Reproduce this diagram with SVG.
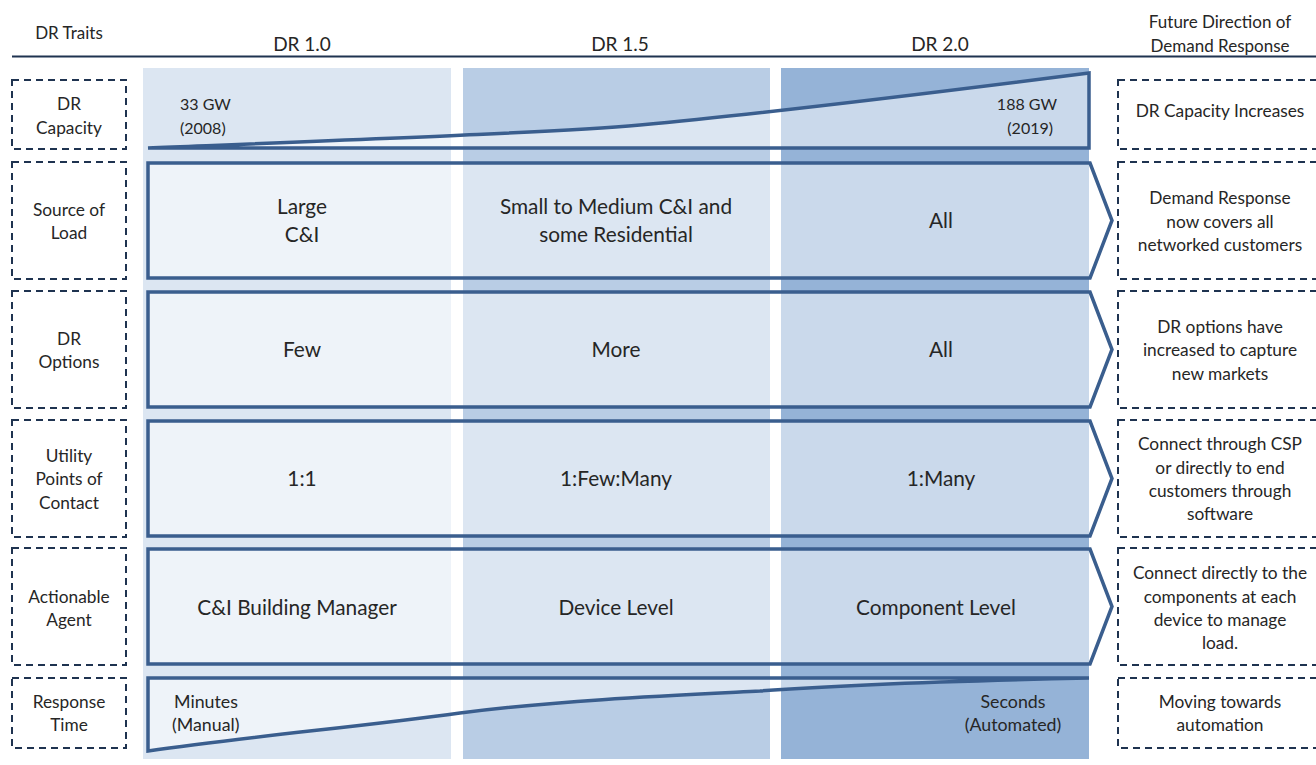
<svg xmlns="http://www.w3.org/2000/svg" width="1316" height="765" viewBox="0 0 1316 765">
  <style>
    text { font-family: Lato, "Open Sans", "Liberation Sans", sans-serif; fill: #262626; }
    .hdr { font-size: 19px; text-anchor: middle; }
    .hdr-s { font-size: 17px; text-anchor: middle; }
    .lbl { font-size: 17.3px; text-anchor: middle; }
    .cell { font-size: 20.8px; text-anchor: middle; }
    .val { font-size: 16px; }
    .val-l { font-size: 17.8px; }
    .trait { fill: none; stroke: #1f3350; stroke-width: 2; stroke-dasharray: 7 5; }
    .band { fill: #ffffff; fill-opacity: 0.5; stroke: #3a5e8e; stroke-width: 3.5; stroke-linejoin: miter; }
  </style>

  <rect width="1316" height="765" fill="#ffffff"/>

  <!-- era columns -->
  <g id="columns">
    <rect x="143" y="68" width="308" height="691" fill="#dce6f2"/>
    <rect x="463" y="68" width="307" height="691" fill="#b9cde5"/>
    <rect x="781" y="68" width="308" height="691" fill="#95b3d7"/>
  </g>

  <!-- header -->
  <g id="header">
    <text class="hdr-s" x="69" y="39">DR Traits</text>
    <text class="hdr" x="302" y="51">DR 1.0</text>
    <text class="hdr" x="620" y="51">DR 1.5</text>
    <text class="hdr" x="940" y="51">DR 2.0</text>
    <text class="hdr-s" x="1220" y="28">Future Direction of</text>
    <text class="hdr-s" x="1220" y="52">Demand Response</text>
    <line x1="12" y1="56.5" x2="1316" y2="56.5" stroke="#1f3350" stroke-width="2"/>
  </g>

  <!-- trait labels (left) -->
  <g id="trait-capacity">
    <rect class="trait" x="12" y="80" width="114" height="69"/>
    <text class="lbl" x="69" y="110">DR</text>
    <text class="lbl" x="69" y="134">Capacity</text>
  </g>
  <g id="trait-source">
    <rect class="trait" x="12" y="162" width="114" height="117"/>
    <text class="lbl" x="69" y="216">Source of</text>
    <text class="lbl" x="69" y="239">Load</text>
  </g>
  <g id="trait-options">
    <rect class="trait" x="12" y="291" width="114" height="117"/>
    <text class="lbl" x="69" y="345">DR</text>
    <text class="lbl" x="69" y="368">Options</text>
  </g>
  <g id="trait-contact">
    <rect class="trait" x="12" y="420" width="114" height="117"/>
    <text class="lbl" x="69" y="462">Utility</text>
    <text class="lbl" x="69" y="485">Points of</text>
    <text class="lbl" x="69" y="509">Contact</text>
  </g>
  <g id="trait-agent">
    <rect class="trait" x="12" y="548" width="114" height="117"/>
    <text class="lbl" x="69" y="603">Actionable</text>
    <text class="lbl" x="69" y="626">Agent</text>
  </g>
  <g id="trait-response">
    <rect class="trait" x="12" y="678" width="114" height="70"/>
    <text class="lbl" x="69" y="708">Response</text>
    <text class="lbl" x="69" y="731">Time</text>
  </g>

  <!-- capacity wedge -->
  <g id="band-capacity">
    <path class="band" d="M148,148 C400,138 560,132 640,125 C760,114 900,97 1089,73 L1089,148 Z"/>
    <text class="val" x="180" y="110">33 GW</text>
    <text class="val" x="180" y="134">(2008)</text>
    <text class="val" x="1057" y="110" text-anchor="end">188 GW</text>
    <text class="val" x="1053" y="134" text-anchor="end">(2019)</text>
  </g>

  <!-- chevron bands -->
  <g id="band-source">
    <path class="band" d="M148,163 L1090,163 L1112,220.5 L1090,278 L148,278 Z"/>
    <text class="cell" x="302" y="214">Large</text>
    <text class="cell" x="302" y="242">C&amp;I</text>
    <text class="cell" x="616" y="214">Small to Medium C&amp;I and</text>
    <text class="cell" x="616" y="242">some Residential</text>
    <text class="cell" x="941" y="228">All</text>
  </g>
  <g id="band-options">
    <path class="band" d="M148,292 L1090,292 L1112,349.5 L1090,407 L148,407 Z"/>
    <text class="cell" x="302" y="357">Few</text>
    <text class="cell" x="616" y="357">More</text>
    <text class="cell" x="941" y="357">All</text>
  </g>
  <g id="band-contact">
    <path class="band" d="M148,421 L1090,421 L1112,478.5 L1090,536 L148,536 Z"/>
    <text class="cell" x="302" y="486">1:1</text>
    <text class="cell" x="616" y="486">1:Few:Many</text>
    <text class="cell" x="941" y="486">1:Many</text>
  </g>
  <g id="band-agent">
    <path class="band" d="M148,549 L1090,549 L1112,606.5 L1090,664 L148,664 Z"/>
    <text class="cell" x="297" y="615">C&amp;I Building Manager</text>
    <text class="cell" x="616" y="615">Device Level</text>
    <text class="cell" x="936" y="615">Component Level</text>
  </g>

  <!-- response time wedge -->
  <g id="band-response">
    <path class="band" d="M148,678 L1089,678 C950,681 840,685 760,691 C680,695 560,700 460,713 C360,727 250,736 148,751 Z"/>
    <text class="val-l" x="174" y="708">Minutes</text>
    <text class="val-l" x="172" y="731">(Manual)</text>
    <text class="val-l" x="1013" y="708" text-anchor="middle">Seconds</text>
    <text class="val-l" x="1013" y="731" text-anchor="middle">(Automated)</text>
  </g>

  <!-- future direction (right) -->
  <g id="future-capacity">
    <rect class="trait" x="1118" y="80" width="204" height="69"/>
    <text class="lbl" x="1220" y="117">DR Capacity Increases</text>
  </g>
  <g id="future-source">
    <rect class="trait" x="1118" y="162" width="204" height="117"/>
    <text class="lbl" x="1220" y="204">Demand Response</text>
    <text class="lbl" x="1220" y="228">now covers all</text>
    <text class="lbl" x="1220" y="251">networked customers</text>
  </g>
  <g id="future-options">
    <rect class="trait" x="1118" y="291" width="204" height="117"/>
    <text class="lbl" x="1220" y="333">DR options have</text>
    <text class="lbl" x="1220" y="356">increased to capture</text>
    <text class="lbl" x="1220" y="380">new markets</text>
  </g>
  <g id="future-contact">
    <rect class="trait" x="1118" y="420" width="204" height="117"/>
    <text class="lbl" x="1220" y="450">Connect through CSP</text>
    <text class="lbl" x="1220" y="474">or directly to end</text>
    <text class="lbl" x="1220" y="497">customers through</text>
    <text class="lbl" x="1220" y="520">software</text>
  </g>
  <g id="future-agent">
    <rect class="trait" x="1118" y="548" width="204" height="117"/>
    <text class="lbl" x="1220" y="579">Connect directly to the</text>
    <text class="lbl" x="1220" y="603">components at each</text>
    <text class="lbl" x="1220" y="626">device to manage</text>
    <text class="lbl" x="1220" y="649">load.</text>
  </g>
  <g id="future-response">
    <rect class="trait" x="1118" y="678" width="204" height="70"/>
    <text class="lbl" x="1220" y="708">Moving towards</text>
    <text class="lbl" x="1220" y="731">automation</text>
  </g>
</svg>
